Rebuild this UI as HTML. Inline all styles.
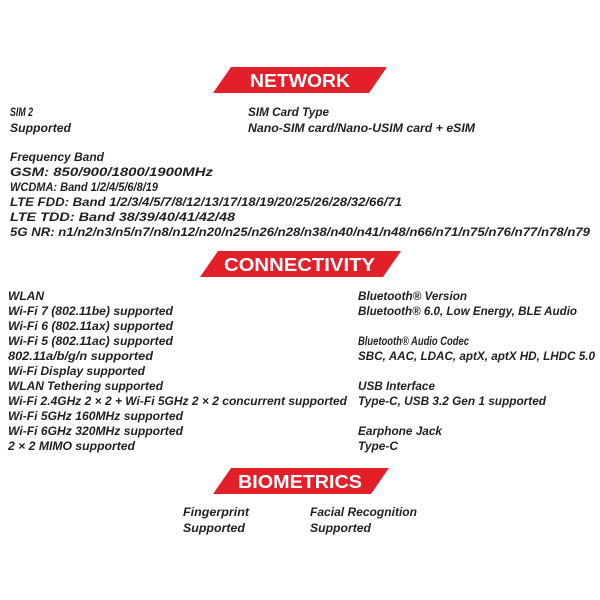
<!DOCTYPE html>
<html><head><style>body{margin:0;background:#fff}svg{display:block}
.t{font-family:"Liberation Sans",sans-serif;font-style:italic;font-weight:bold;font-size:12px;fill:#231f20}
.h{font-family:"Liberation Sans",sans-serif;font-weight:bold;font-size:18px;fill:#fff}</style></head><body>
<svg width="600" height="600" xmlns="http://www.w3.org/2000/svg">
<rect width="600" height="600" fill="#fff"/>
<polygon points="231,67 387,67 369,93 213,93" fill="#e3202a"/>
<text class="h" x="250" y="87" textLength="100" lengthAdjust="spacingAndGlyphs">NETWORK</text>
<polygon points="218,251 401,251 383,277 200,277" fill="#e3202a"/>
<text class="h" x="224" y="271" textLength="151" lengthAdjust="spacingAndGlyphs">CONNECTIVITY</text>
<polygon points="231,468 389,468 371,494 213,494" fill="#e3202a"/>
<text class="h" x="238" y="488" textLength="124" lengthAdjust="spacingAndGlyphs">BIOMETRICS</text>
<g class="t">
<text x="10" y="116" textLength="23" lengthAdjust="spacingAndGlyphs">SIM 2</text>
<text x="10" y="132" textLength="61" lengthAdjust="spacingAndGlyphs">Supported</text>
<text x="248" y="116" textLength="81" lengthAdjust="spacingAndGlyphs">SIM Card Type</text>
<text x="248" y="132" textLength="227" lengthAdjust="spacingAndGlyphs">Nano-SIM card/Nano-USIM card + eSIM</text>
<text x="10" y="161" textLength="94" lengthAdjust="spacingAndGlyphs">Frequency Band</text>
<text x="10" y="176" textLength="203" lengthAdjust="spacingAndGlyphs">GSM: 850/900/1800/1900MHz</text>
<text x="10" y="191" textLength="148" lengthAdjust="spacingAndGlyphs">WCDMA: Band 1/2/4/5/6/8/19</text>
<text x="10" y="206" textLength="392" lengthAdjust="spacingAndGlyphs">LTE FDD: Band 1/2/3/4/5/7/8/12/13/17/18/19/20/25/26/28/32/66/71</text>
<text x="10" y="221" textLength="225" lengthAdjust="spacingAndGlyphs">LTE TDD: Band 38/39/40/41/42/48</text>
<text x="10" y="236" textLength="580" lengthAdjust="spacingAndGlyphs">5G NR: n1/n2/n3/n5/n7/n8/n12/n20/n25/n26/n28/n38/n40/n41/n48/n66/n71/n75/n76/n77/n78/n79</text>
<text x="8" y="300" textLength="36" lengthAdjust="spacingAndGlyphs">WLAN</text>
<text x="8" y="315" textLength="165" lengthAdjust="spacingAndGlyphs">Wi-Fi 7 (802.11be) supported</text>
<text x="8" y="330" textLength="165" lengthAdjust="spacingAndGlyphs">Wi-Fi 6 (802.11ax) supported</text>
<text x="8" y="345" textLength="165" lengthAdjust="spacingAndGlyphs">Wi-Fi 5 (802.11ac) supported</text>
<text x="8" y="360" textLength="145" lengthAdjust="spacingAndGlyphs">802.11a/b/g/n supported</text>
<text x="8" y="375" textLength="137" lengthAdjust="spacingAndGlyphs">Wi-Fi Display supported</text>
<text x="8" y="390" textLength="155" lengthAdjust="spacingAndGlyphs">WLAN Tethering supported</text>
<text x="8" y="405" textLength="339" lengthAdjust="spacingAndGlyphs">Wi-Fi 2.4GHz 2 × 2 + Wi-Fi 5GHz 2 × 2 concurrent supported</text>
<text x="8" y="420" textLength="175" lengthAdjust="spacingAndGlyphs">Wi-Fi 5GHz 160MHz supported</text>
<text x="8" y="435" textLength="175" lengthAdjust="spacingAndGlyphs">Wi-Fi 6GHz 320MHz supported</text>
<text x="8" y="450" textLength="127" lengthAdjust="spacingAndGlyphs">2 × 2 MIMO supported</text>
<text x="358" y="300" textLength="109" lengthAdjust="spacingAndGlyphs">Bluetooth® Version</text>
<text x="358" y="315" textLength="219" lengthAdjust="spacingAndGlyphs">Bluetooth® 6.0, Low Energy, BLE Audio</text>
<text x="358" y="345" textLength="111" lengthAdjust="spacingAndGlyphs">Bluetooth® Audio Codec</text>
<text x="358" y="360" textLength="237" lengthAdjust="spacingAndGlyphs">SBC, AAC, LDAC, aptX, aptX HD, LHDC 5.0</text>
<text x="358" y="390" textLength="77" lengthAdjust="spacingAndGlyphs">USB Interface</text>
<text x="358" y="405" textLength="188" lengthAdjust="spacingAndGlyphs">Type-C, USB 3.2 Gen 1 supported</text>
<text x="358" y="435" textLength="84" lengthAdjust="spacingAndGlyphs">Earphone Jack</text>
<text x="358" y="450" textLength="40" lengthAdjust="spacingAndGlyphs">Type-C</text>
<text x="183" y="516" textLength="66" lengthAdjust="spacingAndGlyphs">Fingerprint</text>
<text x="183" y="532" textLength="62" lengthAdjust="spacingAndGlyphs">Supported</text>
<text x="310" y="516" textLength="107" lengthAdjust="spacingAndGlyphs">Facial Recognition</text>
<text x="310" y="532" textLength="61" lengthAdjust="spacingAndGlyphs">Supported</text>
</g>
</svg>
</body></html>
